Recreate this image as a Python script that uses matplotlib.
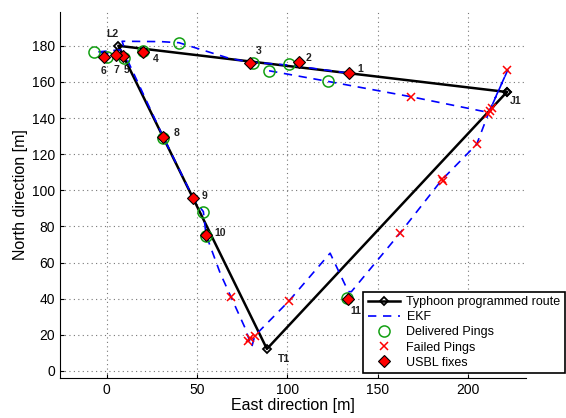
import numpy as np
import matplotlib
matplotlib.use("Agg")
import matplotlib.pyplot as plt

plt.rcParams['font.family'] = ['Liberation Sans', 'DejaVu Sans']

# programmed route (waypoints)
route_east = [221.6, 6.4, 88.7, 221.6]
route_north = [154.4, 180.0, 12.2, 154.4]
wp_names = ['J1', 'L2', 'T1']
wp_label_pos = [(226.6, 149.4), (3.0, 186.5), (98.2, 6.6)]

# EKF estimate
ekf_east = [133.0, 101.0, 79.0, 68.0, 40.0, 30.0, 8.5, 10.0, -6.0, 9.0, 11.5,
            31.3, 48.0, 53.5, 55.0, 62.8, 76.6, 80.3, 82.0, 100.6, 123.7,
            133.8, 135.5, 162.4, 185.5, 204.9, 211.5, 222.1, 211.3, 209.5,
            168.5, 122.4, 89.7, 86.6]
ekf_north = [165.0, 169.3, 171.0, 173.0, 181.7, 182.3, 182.5, 178.0, 176.5,
             175.0, 172.0, 129.5, 95.5, 88.2, 75.3, 54.2, 23.8, 13.3, 19.5,
             38.4, 65.2, 43.9, 43.9, 76.3, 105.7, 125.5, 142.8, 166.6, 142.6,
             143.5, 151.8, 160.3, 166.2, 167.5]

# delivered pings
deliv_east = [-7.0, 0.0, 9.4, 19.8, 40.1, 80.8, 89.7, 101.1, 122.4, 31.3,
              53.5, 55.2, 132.9]
deliv_north = [176.6, 173.8, 173.4, 177.0, 181.7, 170.2, 166.2, 169.7, 160.3,
               129.1, 88.2, 74.8, 40.2]

# failed pings
fail_east = [221.5, 213.2, 211.3, 212.2, 168.5, 204.9, 185.4, 186.3, 162.4,
             101.0, 68.9, 79.3, 82.1, 78.2]
fail_north = [166.6, 145.4, 142.0, 143.8, 151.8, 125.5, 106.4, 105.2, 76.3,
              38.7, 40.9, 18.0, 19.5, 16.6]

# USBL fixes
fix_east = [134.2, 106.5, 79.3, 19.9, 9.2, -1.8, 5.3, 31.3, 48.0, 55.0, 133.4]
fix_north = [164.9, 170.8, 170.6, 176.7, 174.5, 173.8, 175.1, 129.7, 95.5,
             75.3, 39.8]
fix_labels = ['1', '2', '3', '4', '5', '6', '7', '8', '9', '10', '11']
fix_label_pos = [(140.2, 167.1), (111.5, 173.2), (84.3, 177.1), (27.3, 172.7),
                 (10.9, 166.6), (-2.0, 166.0), (5.5, 166.6), (38.9, 131.7),
                 (53.9, 96.8), (62.9, 76.4), (138.0, 33.2)]

fig = plt.figure(figsize=(5.66, 4.18), dpi=100)
ax = fig.add_axes([60/566, 40/418, 466/566, 366/418])

ax.plot(route_east, route_north, '-', color='k', lw=1.8, marker='D',
        ms=4.5, mfc='none', mec='k', mew=1.3, label='Typhoon programmed route')
ax.plot(ekf_east, ekf_north, '--', color='#0000ff', lw=1.2, dashes=(5, 4),
        label='EKF')
ax.plot(deliv_east, deliv_north, 'o', ls='none', ms=8, mfc='none',
        mec='#12a012', mew=1.1, label='Delivered Pings')
ax.plot(fail_east, fail_north, 'x', ls='none', ms=6, color='#ff0000',
        mew=1.1, label='Failed Pings')
ax.plot(fix_east, fix_north, 'D', ls='none', ms=6.5, mfc='#ff0000', mec='k',
        mew=0.8, label='USBL fixes')

for lab, (px, py) in zip(fix_labels, fix_label_pos):
    ax.text(px, py, lab, fontsize=7.5, fontweight='bold', ha='center',
            va='center', color='#222222')
for lab, (px, py) in zip(wp_names, wp_label_pos):
    ax.text(px, py, lab, fontsize=7.5, fontweight='bold', ha='center',
            va='center', color='#222222')

ax.set_xlim(-25.9, 232.2)
ax.set_ylim(-3.9, 198.7)
ax.set_xticks([0, 50, 100, 150, 200])
ax.set_yticks(np.arange(0, 181, 20))
ax.grid(True, ls=(0, (1, 3)), color='#777777', lw=0.8)
ax.spines['top'].set_visible(False)
ax.spines['right'].set_visible(False)
ax.tick_params(direction='in', length=3, labelsize=10)
ax.set_xlabel('East direction [m]', fontsize=11.5, labelpad=1)
ax.set_ylabel('North direction [m]', fontsize=11.5, labelpad=3)

leg = ax.legend(loc='lower right', bbox_to_anchor=(565/566, 45/418),
                bbox_transform=fig.transFigure, borderaxespad=0, fontsize=9,
                frameon=True, fancybox=False, edgecolor='k', framealpha=1,
                handlelength=2.6, labelspacing=0.25, borderpad=0.35,
                handletextpad=0.5)
leg.get_frame().set_linewidth(1.2)

fig.savefig('out.png', dpi=100)
